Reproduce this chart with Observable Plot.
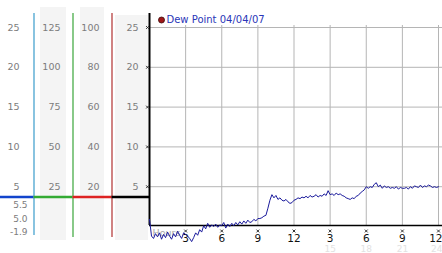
<!DOCTYPE html>
<html>
<head>
<meta charset="utf-8">
<script src="https://cdn.jsdelivr.net/npm/d3@7"></script>
<script src="https://cdn.jsdelivr.net/npm/@observablehq/plot@0.6"></script>
<style>
  html, body { margin: 0; padding: 0; background: #fff; }
</style>
</head>
<body>
<div id="chart"></div>
<script>
// ---- data ----
const title = "Dew Point 04/04/07";
const stepMinutes = 10;
const dewPoint = [
  0.9, -1.2, -1.5, -0.9, -1.3, -0.8, -1.6, -1.0, -1.4, -0.7, -1.2, -1.6, -0.9, -1.3, -0.6, -1.1, -1.5, -0.8, -1.0,
  -1.2, -1.5, -1.9, -1.4, -0.8, -1.1, -0.4, -0.7, 0.1, -0.3, 0.4, -0.1, 0.2, 0.0, 0.3, -0.1, 0.2, 0.1,
  0.5, -0.2, 0.3, 0.0, 0.4, 0.1, 0.5, 0.2, 0.6, 0.3, 0.7, 0.4, 0.8, 0.5, 0.6, 0.9, 0.7, 1.0,
  1.0, 1.1, 1.3, 1.4, 2.3, 3.3, 4.0, 3.6, 3.9, 3.4, 3.6, 3.3, 3.2, 3.4, 3.1, 2.9, 3.0, 3.3,
  3.4, 3.6, 3.5, 3.7, 3.6, 3.8, 3.6, 3.9, 3.7, 3.8, 4.0, 3.7, 3.9, 3.8, 4.1, 3.9, 4.5, 4.0,
  4.1, 3.9, 4.2, 4.0, 4.1, 3.9, 3.8, 3.6, 3.5, 3.4, 3.6, 3.5, 3.8, 3.9, 4.2, 4.4, 4.6, 5.0,
  4.8, 5.0, 4.9, 5.3, 5.5, 5.0, 5.2, 4.8, 5.1, 4.9, 5.0, 4.8, 4.9, 4.8, 5.0, 4.7, 4.9, 4.8,
  4.8, 4.9, 4.7, 5.0, 4.8, 5.1, 5.0, 4.9, 5.2, 4.9, 5.1, 5.0, 5.2, 5.1, 4.9, 5.0, 4.9, 5.0
];
const gridValues = [5, 10, 15, 20, 25];
const colLabels1 = ["5", "10", "15", "20", "25"];
const colLabels2 = ["25", "50", "75", "100", "125"];
const colLabels3 = ["20", "40", "60", "80", "100"];
const colLabels4 = ["5", "10", "15", "20", "25"];
const hourTicks = [3, 6, 9, 12, 15, 18, 21, 24];
const hourLabels = ["3", "6", "9", "12", "3", "6", "9", "12"];
const faintHours = [15, 18, 21, 24];
const faintLabels = ["15", "18", "21", "24"];
const statLabels = ["5.5", "5.0", "-1.9"];
const currentMarker = 3.7;

const series = dewPoint.map((v, i) => ({h: i * stepMinutes / 60, v}));

// ---- layout helpers (pixel -> data units) ----
const W = 442, H = 253, L = 149, R = 438, T = 27, B = 226;
const X = px => (px - L) * 24 / (R - L);
const Y = py => (B - py) * 25 / (B - T);

const gray = "#7c7c7c";
const grid = "#b5b5b5";

const cols = [
  {labels: colLabels1, x: X(19)},
  {labels: colLabels2, x: X(60)},
  {labels: colLabels3, x: X(99)},
  {labels: colLabels4, x: X(138)}
];
const colText = cols.flatMap(c => gridValues.map((g, j) => ({x: c.x, y: g, t: c.labels[j]})));

const bands = [
  {x1: X(40), x2: X(66), y1: Y(240), y2: Y(7)},
  {x1: X(80), x2: X(104), y1: Y(240), y2: Y(7)},
  {x1: X(115), x2: X(148), y1: Y(240), y2: Y(15)}
];
const colLines = [
  {x: X(33.5), c: "#3a9ccc", y1: Y(235)},
  {x: X(72.5), c: "#3aa53a", y1: Y(237)},
  {x: X(111.5), c: "#b03030", y1: Y(237)}
];
const markerSegs = [
  {x1: X(0), x2: X(33.5), c: "#1144cc"},
  {x1: X(33.5), x2: X(72.5), c: "#33aa33"},
  {x1: X(72.5), x2: X(111.5), c: "#dd2222"},
  {x1: X(111.5), x2: X(149), c: "#000"}
];
const statText = statLabels.map((t, i) => ({t, y: Y([205, 219, 232][i])}));

const hourText = hourTicks.map((h, i) => ({h, t: hourLabels[i], last: h === 24}));
const faintText = faintHours.map((h, i) => ({h, t: faintLabels[i], last: h === 24}));

const chart = Plot.plot({
  width: W,
  height: H,
  marginLeft: L,
  marginRight: W - R,
  marginTop: T,
  marginBottom: H - B,
  x: {domain: [0, 24], axis: null},
  y: {domain: [0, 25], axis: null},
  style: {background: "#fff", fontFamily: "DejaVu Sans, Verdana, sans-serif", fontSize: "9px", overflow: "visible"},
  marks: [
    Plot.rect(bands, {x1: "x1", x2: "x2", y1: "y1", y2: "y2", fill: "#f4f4f4"}),
    Plot.ruleY(gridValues, {x1: 0, x2: X(W), stroke: grid, strokeWidth: 1}),
    Plot.ruleX(hourTicks, {y1: Y(225), y2: Y(25), stroke: grid, strokeWidth: 1}),
    Plot.ruleX(colLines, {x: "x", y1: "y1", y2: Y(13), stroke: "c", strokeWidth: 1.2}),
    Plot.ruleX([0], {y1: Y(225), y2: Y(13), stroke: "#000", strokeWidth: 2}),
    Plot.ruleY([Y(225)], {x1: 0, x2: X(W), stroke: "#000", strokeWidth: 1.5}),
    Plot.ruleY(markerSegs, {y: currentMarker, x1: "x1", x2: "x2", stroke: "c", strokeWidth: 2.5}),
    Plot.text(colText, {x: "x", y: "y", text: "t", textAnchor: "end", fill: gray, fontSize: 9.5}),
    Plot.text(statText, {x: X(27), y: "y", text: "t", textAnchor: "end", fill: gray, fontSize: 9}),
    Plot.dot(gridValues, {x: X(147), y: d => d, symbol: "times", r: 1.4, stroke: "#333", strokeWidth: 1}),
    Plot.dot(hourTicks, {x: d => d, y: Y(230.5), symbol: "times", r: 1.4, stroke: "#333", strokeWidth: 1}),
    Plot.text(["Hours"], {x: X(152), y: Y(232), textAnchor: "start", fill: "#a8a8a8", fontSize: 9.5}),
    Plot.text(faintText.filter(d => !d.last), {x: "h", y: Y(249), text: "t", fill: "#e2e2e2", fontSize: 9}),
    Plot.text(faintText.filter(d => d.last), {x: X(442), y: Y(249), text: "t", textAnchor: "end", fill: "#e2e2e2", fontSize: 9}),
    Plot.text(hourText.filter(d => !d.last), {x: "h", y: Y(238.5), text: "t", fill: "#111", fontSize: 10.5}),
    Plot.text(hourText.filter(d => d.last), {x: X(442), y: Y(238.5), text: "t", textAnchor: "end", fill: "#111", fontSize: 10.5}),
    Plot.line(series, {x: "h", y: "v", stroke: "#1a1a9c", strokeWidth: 1}),
    Plot.dot([0], {x: X(161), y: Y(19.5), r: 3, fill: "#a01818", stroke: "#3a0a0a", strokeWidth: 0.8}),
    Plot.text([title], {x: X(166), y: Y(19.5), textAnchor: "start", fill: "#2a36b8", fontSize: 10})
  ]
});
document.getElementById("chart").appendChild(chart);
</script>
</body>
</html>
